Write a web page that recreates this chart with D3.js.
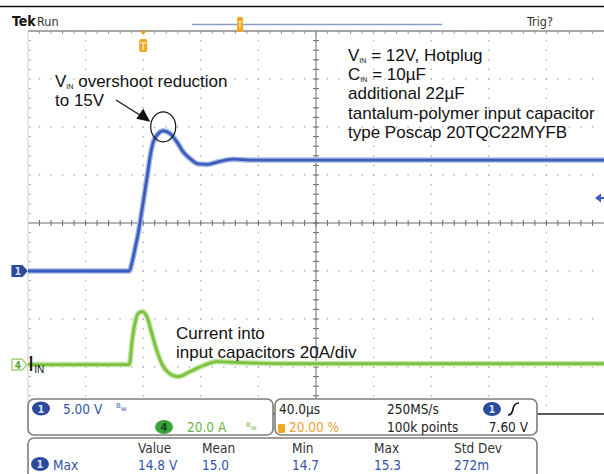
<!DOCTYPE html>
<html>
<head>
<meta charset="utf-8">
<script src="https://cdn.jsdelivr.net/npm/d3@7"></script>
<style>
  html, body { margin: 0; padding: 0; background: #fff; }
  svg { display: block; }
  .ui { font-family: "Liberation Sans Narrow", "DejaVu Sans Condensed", "Roboto", sans-serif; }
  .note { font-family: "Liberation Sans", Arial, sans-serif; }
</style>
</head>
<body>
<svg id="scope" width="604" height="474"></svg>
<script>
// ---- Captured waveforms (time in µs relative to trigger) ----
const timeUs   = [-80, -9.7, -7.6, -5.6, -3.5, -0.7, 2.8, 4.9, 6.9, 10.4, 13.9, 18.8, 23.6, 27.8, 32.6, 38.2, 44.4, 51.4, 62.5, 74.3, 109, 200, 320];
const vinVolts = [0,   0,    1.0,  2.4,  3.9,  6.5,  9.9, 12.0, 13.4, 14.3, 14.6, 14.3, 13.4, 12.4, 11.7, 11.15, 11.1, 11.35, 11.65, 11.55, 11.55, 11.55, 11.55];

const iTimeUs  = [-80, -9.7, -7.6, -5.6, -3.5, -0.7, 2.8, 6.2, 9.7, 13.2, 17.4, 24.3, 32.6, 41.7, 51.4, 67.4, 109, 200, 320];
const iinAmps  = [0,   0,    10.4, 17.5, 21.3, 22.1, 19.6, 12.5, 5.4, 0,  -3.3, -5.0, -2.9, -0.4, 1.25, 0.8, 0.4, 0.4, 0.4];

// ---- Scope settings ----
const timePerDiv = 40;      // µs/div
const triggerPct = 20;      // trigger position, % of record
const ch1VoltsPerDiv = 5;   // V/div
const ch4AmpsPerDiv = 20;   // A/div
const ch1Offset = -1.0;     // divisions from centre
const ch4Offset = -2.95;
const trigLevel = 7.6;      // V

// Measurement readout
const measHeaders = ["Value", "Mean", "Min", "Max", "Std Dev"];
const measValues  = ["14.8 V", "15.0", "14.7", "15.3", "272m"];

// Text annotations
const infoLines = [
  [["V", ""], ["IN", "sub"], [" = 12V, Hotplug", ""]],
  [["C", ""], ["IN", "sub"], [" = 10\u00b5F", ""]],
  [["additional 22\u00b5F", ""]],
  [["tantalum-polymer input capacitor", ""]],
  [["type Poscap 20TQC22MYFB", ""]]
];

// ---- Graticule geometry ----
const gx0 = 28, gx1 = 604, gy0 = 31, gy1 = 415;
const nx = 10, ny = 8;
const dx = (gx1 - gx0) / nx, dy = (gy1 - gy0) / ny;
const cx = gx0 + dx * 5, cy = gy0 + dy * 4;

const svg = d3.select("#scope");

const tStart = -triggerPct / 100 * nx * timePerDiv;
const x = d3.scaleLinear().domain([tStart, tStart + nx * timePerDiv]).range([gx0, gx1]);
const yV = d3.scaleLinear()
  .domain([(-4 - ch1Offset) * ch1VoltsPerDiv, (4 - ch1Offset) * ch1VoltsPerDiv])
  .range([gy1, gy0]);
const yI = d3.scaleLinear()
  .domain([(-4 - ch4Offset) * ch4AmpsPerDiv, (4 - ch4Offset) * ch4AmpsPerDiv])
  .range([gy1, gy0]);

// outer frame line at very top
svg.append("line").attr("x1", 0).attr("x2", 604).attr("y1", 6.5).attr("y2", 6.5)
  .attr("stroke", "#111").attr("stroke-width", 1.5);

// ---- grid dots ----
const grid = svg.append("g");
for (let i = 1; i < nx; i++) {
  if (i === 5) continue;
  const gxp = gx0 + i * dx;
  for (let k = 1; k < ny * 5; k++) {
    grid.append("rect").attr("x", gxp - 0.75).attr("y", gy0 + k * dy / 5 - 0.75)
      .attr("width", 1.5).attr("height", 1.5).attr("fill", "#b8b8b8");
  }
}
for (let j = 1; j < ny; j++) {
  if (j === 4) continue;
  const gyp = gy0 + j * dy;
  for (let k = 1; k < nx * 5; k++) {
    grid.append("rect").attr("x", gx0 + k * dx / 5 - 0.75).attr("y", gyp - 0.75)
      .attr("width", 1.5).attr("height", 1.5).attr("fill", "#b8b8b8");
  }
}
// centre cross with minor ticks
grid.append("line").attr("x1", gx0).attr("x2", gx1).attr("y1", cy).attr("y2", cy)
  .attr("stroke", "#6a6a6a").attr("stroke-width", 1);
grid.append("line").attr("x1", cx).attr("x2", cx).attr("y1", gy0).attr("y2", gy1)
  .attr("stroke", "#6a6a6a").attr("stroke-width", 1);
for (let k = 1; k < nx * 5; k++) {
  const xp = gx0 + k * dx / 5;
  grid.append("line").attr("x1", xp).attr("x2", xp).attr("y1", cy - 3).attr("y2", cy + 3)
    .attr("stroke", "#6a6a6a");
  grid.append("line").attr("x1", xp).attr("x2", xp).attr("y1", gy0).attr("y2", gy0 + 3)
    .attr("stroke", "#9a9a9a");
}
for (let k = 1; k < ny * 5; k++) {
  const yp = gy0 + k * dy / 5;
  grid.append("line").attr("x1", cx - 3).attr("x2", cx + 3).attr("y1", yp).attr("y2", yp)
    .attr("stroke", "#6a6a6a");
  grid.append("line").attr("x1", gx0).attr("x2", gx0 + 3).attr("y1", yp).attr("y2", yp)
    .attr("stroke", "#b0b0b0");
}
// frame
grid.append("line").attr("x1", gx0).attr("x2", gx1).attr("y1", gy0).attr("y2", gy0)
  .attr("stroke", "#8a8a8a").attr("stroke-width", 1.5);
grid.append("line").attr("x1", gx0).attr("x2", gx0).attr("y1", gy0).attr("y2", gy1)
  .attr("stroke", "#d0d0d0").attr("stroke-width", 1);
grid.append("line").attr("x1", gx0).attr("x2", gx1).attr("y1", gy1 - 1).attr("y2", gy1 - 1)
  .attr("stroke", "#222").attr("stroke-width", 1.5);

// ---- traces ----
const lineV = d3.line().x((d, i) => x(timeUs[i])).y(d => yV(d)).curve(d3.curveMonotoneX);
const lineI = d3.line().x((d, i) => x(iTimeUs[i])).y(d => yI(d)).curve(d3.curveMonotoneX);

svg.append("path").attr("d", lineI(iinAmps)).attr("fill", "none")
  .attr("stroke", "#c4e6a0").attr("stroke-width", 5.5).attr("stroke-linejoin", "round");
svg.append("path").attr("d", lineI(iinAmps)).attr("fill", "none")
  .attr("stroke", "#7cc142").attr("stroke-width", 2.8).attr("stroke-linejoin", "round");

svg.append("path").attr("d", lineV(vinVolts)).attr("fill", "none")
  .attr("stroke", "#a9b9e6").attr("stroke-width", 5.5).attr("stroke-linejoin", "round");
svg.append("path").attr("d", lineV(vinVolts)).attr("fill", "none")
  .attr("stroke", "#3a5cbc").attr("stroke-width", 2.8).attr("stroke-linejoin", "round");

// ---- channel ground markers ----
function chMarker(yp, fill, stroke, label, labelColor) {
  const g = svg.append("g");
  g.append("path")
    .attr("d", `M12,${yp - 5.5} L22,${yp - 5.5} L27,${yp} L22,${yp + 5.5} L12,${yp + 5.5} Z`)
    .attr("fill", fill).attr("stroke", stroke).attr("stroke-width", 1.2).attr("stroke-linejoin", "round");
  g.append("text").attr("class", "ui").attr("x", 18).attr("y", yp + 4)
    .attr("text-anchor", "middle").attr("font-size", 10).attr("font-weight", "bold")
    .attr("fill", labelColor).text(label);
}
chMarker(yV(0), "#2b4a9b", "#2b4a9b", "1", "#d8e0ff");
chMarker(yI(0), "#ffffff", "#8cc865", "4", "#5aa332");

// trigger level marker (right edge)
const tl = yV(trigLevel);
svg.append("path").attr("d", `M595,${tl} L601,${tl - 4.5} L601,${tl + 4.5} Z`).attr("fill", "#3a5cbc");
svg.append("line").attr("x1", 600).attr("x2", 604).attr("y1", tl).attr("y2", tl)
  .attr("stroke", "#3a5cbc").attr("stroke-width", 2);

// trigger position marker (top)
const tx = x(0);
svg.append("path").attr("d", `M${tx - 3.5},${gy0} L${tx + 3.5},${gy0} L${tx},${gy0 + 4} Z`).attr("fill", "#f0a020");
svg.append("rect").attr("x", tx - 4).attr("y", gy0 + 8).attr("width", 8).attr("height", 13)
  .attr("rx", 2).attr("fill", "#f2a51e");
svg.append("text").attr("class", "ui").attr("x", tx).attr("y", gy0 + 18.5).attr("text-anchor", "middle")
  .attr("font-size", 10).attr("font-weight", "bold").attr("fill", "#fde3a8").text("T");

// ---- header ----
svg.append("text").attr("class", "ui").attr("x", 12).attr("y", 26).attr("font-size", 14)
  .attr("font-weight", "bold").attr("fill", "#111").text("Tek");
svg.append("text").attr("class", "ui").attr("x", 37).attr("y", 26).attr("font-size", 12.5)
  .attr("fill", "#333").text("Run");
svg.append("text").attr("class", "ui").attr("x", 527).attr("y", 26).attr("font-size", 12.5)
  .attr("fill", "#333").text("Trig?");
svg.append("line").attr("x1", 192).attr("x2", 442).attr("y1", 24.5).attr("y2", 24.5)
  .attr("stroke", "#8a9ccc").attr("stroke-width", 1.5);
svg.append("rect").attr("x", 237).attr("y", 17).attr("width", 6).attr("height", 15)
  .attr("rx", 1.5).attr("fill", "#f2a51e");
svg.append("text").attr("class", "ui").attr("x", 240).attr("y", 28).attr("text-anchor", "middle")
  .attr("font-size", 8).attr("font-weight", "bold").attr("fill", "#fde3a8").text("T");

// ---- annotations ----
const noteSize = 17;
function richText(xp, yp, parts, size) {
  const t = svg.append("text").attr("class", "note").attr("x", xp).attr("y", yp)
    .attr("font-size", size).attr("fill", "#111");
  parts.forEach(([s, kind]) => {
    if (kind === "sub") {
      t.append("tspan").attr("font-size", size * 0.42).attr("dy", 2).text(s);
    } else {
      const sp = t.append("tspan").text(s);
      if (t.selectAll("tspan").size() > 1) sp.attr("dy", -2);
    }
  });
  return t;
}
infoLines.forEach((parts, i) => richText(348, 61 + i * 19.2, parts, noteSize));

richText(55, 87, [["V", ""], ["IN", "sub"], [" overshoot reduction", ""]], noteSize);
richText(55, 106, [["to 15V", ""]], noteSize);

// arrow to the overshoot peak
const peakT = timeUs[vinVolts.indexOf(d3.max(vinVolts))];
const px = x(peakT), py = yV(d3.max(vinVolts));
svg.append("line").attr("x1", 116).attr("y1", 100).attr("x2", px - 19).attr("y2", py - 13)
  .attr("stroke", "#111").attr("stroke-width", 1.2);
svg.append("path")
  .attr("d", `M${px - 13},${py - 9} L${px - 27},${py - 12} L${px - 20},${py - 22} Z`)
  .attr("fill", "#111");
svg.append("ellipse").attr("cx", px).attr("cy", py - 4).attr("rx", 12.5).attr("ry", 15)
  .attr("fill", "none").attr("stroke", "#111").attr("stroke-width", 1.2);

svg.append("text").attr("class", "note").attr("x", 176).attr("y", 339).attr("font-size", noteSize)
  .attr("fill", "#111").text("Current into");
svg.append("text").attr("class", "note").attr("x", 176).attr("y", 358).attr("font-size", noteSize)
  .attr("fill", "#111").text("input capacitors 20A/div");

const iin = svg.append("text").attr("class", "note").attr("x", 28).attr("y", 371).attr("fill", "#111");
iin.append("tspan").attr("font-size", 22).text("I");
iin.append("tspan").attr("font-size", 10).attr("dy", 2).text("IN");

// ---- readout panels ----
function panel(xp, yp, w, h) {
  svg.append("rect").attr("x", xp).attr("y", yp).attr("width", w).attr("height", h)
    .attr("rx", 6).attr("fill", "#fff").attr("stroke", "#7e7e7e").attr("stroke-width", 1.6);
}
function badge(xc, yc, fill, label, color) {
  svg.append("ellipse").attr("cx", xc).attr("cy", yc).attr("rx", 9).attr("ry", 7).attr("fill", fill);
  svg.append("text").attr("class", "ui").attr("x", xc).attr("y", yc + 4).attr("text-anchor", "middle")
    .attr("font-size", 11).attr("font-weight", "bold").attr("fill", color).text(label);
}
function uiText(xp, yp, s, color, anchor) {
  svg.append("text").attr("class", "ui").attr("x", xp).attr("y", yp).attr("font-size", 13.5)
    .attr("fill", color).attr("text-anchor", anchor || "start").text(s);
}
function bwMark(xp, yp, color) {
  const t = svg.append("text").attr("class", "ui").attr("x", xp).attr("y", yp)
    .attr("font-size", 7).attr("font-weight", "bold").attr("fill", color);
  t.append("tspan").text("B");
  t.append("tspan").attr("dy", 3).text("w");
}

const blueTxt = "#3552a8", greenTxt = "#6db33f", darkTxt = "#222", orangeTxt = "#f0a030";

panel(28, 399, 245, 36);
badge(41, 408.5, "#2b4a9b", "1", "#d8e0ff");
uiText(63, 414, `${ch1VoltsPerDiv.toFixed(2)} V`, blueTxt);
bwMark(116, 408, "#8797c8");
badge(164, 427, "#3aa33c", "4", "#15451a");
uiText(187, 432, `${ch4AmpsPerDiv.toFixed(1)} A`, greenTxt);
bwMark(246, 427, "#a8d08c");

panel(275, 399, 262, 36);
uiText(279, 414, `${timePerDiv.toFixed(1)}\u00b5s`, darkTxt);
uiText(387, 414, "250MS/s", darkTxt);
badge(492, 409, "#2b4a9b", "1", "#d8e0ff");
svg.append("path").attr("d", "M508,415 Q512,415 513,409 Q514,403 519,403")
  .attr("fill", "none").attr("stroke", "#111").attr("stroke-width", 1.6);
svg.append("rect").attr("x", 278).attr("y", 424).attr("width", 7).attr("height", 9)
  .attr("rx", 1.5).attr("fill", "#f2a51e");
uiText(289, 432, `${triggerPct.toFixed(2)} %`, orangeTxt);
uiText(387, 432, "100k points", darkTxt);
uiText(528, 432, `${trigLevel.toFixed(2)} V`, darkTxt, "end");

panel(28, 438, 509, 46);
const colX = [138, 202, 292, 374, 454];
measHeaders.forEach((h, i) => uiText(colX[i], 453, h, "#333"));
badge(40, 464, "#2b4a9b", "1", "#d8e0ff");
uiText(53, 470, "Max", blueTxt);
measValues.forEach((v, i) => uiText(colX[i], 470, v, blueTxt));
</script>
</body>
</html>
